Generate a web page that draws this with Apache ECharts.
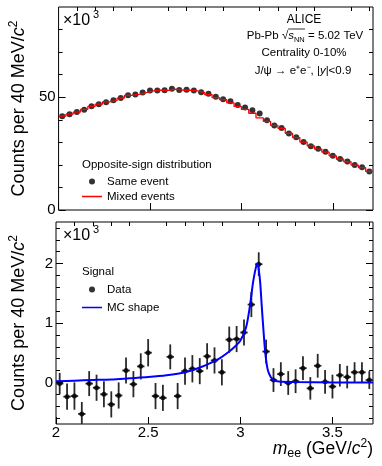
<!DOCTYPE html>
<html>
<head>
<meta charset="utf-8">
<script src="https://cdn.jsdelivr.net/npm/echarts@6/dist/echarts.min.js"></script>
<style>
html, body { margin: 0; padding: 0; background: #fff; }
#chart { width: 382px; height: 466px; }
</style>
</head>
<body>
<div id="chart"></div>
<script>
// bin centres (40 MeV bins)
const massBins = [2.02, 2.06, 2.10, 2.14, 2.18, 2.22, 2.26, 2.30, 2.34, 2.38,
  2.42, 2.46, 2.50, 2.54, 2.58, 2.62, 2.66, 2.70, 2.74, 2.78,
  2.82, 2.86, 2.90, 2.94, 2.98, 3.02, 3.06, 3.10, 3.14, 3.18,
  3.22, 3.26, 3.30, 3.34, 3.38, 3.42, 3.46, 3.50, 3.54, 3.58,
  3.62, 3.66, 3.70]
// opposite-sign, x10^3
const sameEvent = [41.6, 42.5, 43.5, 44.5, 46.0, 46.9, 47.8, 48.7, 49.7, 50.9,
  51.2, 52.1, 53.0, 53.0, 53.1, 53.8, 53.2, 53.3, 53.0, 52.2,
  51.5, 50.2, 49.1, 48.2, 46.6, 45.4, 44.2, 42.8, 39.8, 37.5,
  36.3, 33.9, 32.2, 30.2, 28.3, 27.1, 25.8, 24.0, 22.6, 21.5,
  20.0, 18.9, 17.1]
const mixedEvents = [41.6, 42.5, 43.4, 44.6, 45.9, 46.9, 47.9, 48.6, 49.6, 50.8,
  51.3, 52.0, 52.8, 53.1, 53.0, 53.6, 53.1, 53.1, 52.8, 52.0,
  51.1, 49.8, 48.9, 47.5, 45.9, 44.6, 42.9, 40.8, 39.3, 37.5,
  36.2, 34.0, 32.1, 30.1, 28.4, 27.0, 25.7, 24.0, 22.5, 21.4,
  19.9, 18.8, 17.1]
// signal, x10^3
const signal = [-0.02, -0.24, -0.23, -0.53, -0.02, -0.09, -0.20, -0.37, -0.22, 0.20,
  -0.03, 0.27, 0.50, -0.23, -0.26, 0.43, -0.23, 0.19, 0.23, 0.19,
  0.44, 0.37, 0.17, 0.72, 0.73, 0.84, 1.31, 1.99, 0.52, 0.04,
  0.14, -0.01, 0.02, 0.24, -0.10, 0.28, 0.01, -0.07, 0.12, 0.09,
  0.17, 0.17, 0.04]
const signalErr = [0.18, 0.22, 0.23, 0.20, 0.21, 0.22, 0.22, 0.22, 0.22, 0.22,
  0.22, 0.22, 0.23, 0.22, 0.22, 0.21, 0.22, 0.23, 0.23, 0.22,
  0.22, 0.22, 0.22, 0.22, 0.22, 0.22, 0.21, 0.20, 0.20, 0.20,
  0.20, 0.20, 0.20, 0.20, 0.19, 0.20, 0.20, 0.20, 0.19, 0.19,
  0.17, 0.17, 0.15]
// MC line shape
const mcMass = [2.00, 2.10, 2.20, 2.30, 2.40, 2.50, 2.60, 2.70, 2.78, 2.84,
  2.89, 2.94, 2.97, 3.00, 3.03, 3.05, 3.07, 3.085, 3.092, 3.10,
  3.108, 3.116, 3.124, 3.132, 3.14, 3.15, 3.165, 3.18, 3.21, 3.30,
  3.50, 3.72]
const mcShape = [0.02, 0.03, 0.04, 0.05, 0.07, 0.09, 0.12, 0.17, 0.25, 0.33,
  0.41, 0.52, 0.60, 0.70, 0.91, 1.24, 1.70, 1.94, 2.00, 1.90,
  1.68, 1.30, 0.95, 0.62, 0.38, 0.20, 0.09, 0.04, 0.015, 0.005,
  0.0, 0.0]
// ticks
const xMajor = [2, 2.5, 3, 3.5]
const xMinor = [2.1, 2.2, 2.3, 2.4, 2.6, 2.7, 2.8, 2.9, 3.1, 3.2, 3.3, 3.4, 3.6, 3.7]
const topMajor = [0, 50]
const topMinor = [10, 20, 30, 40, 60, 70, 80]
const botMajor = [0, 1, 2]
const botMinor = [-0.6, -0.4, -0.2, 0.2, 0.4, 0.6, 0.8, 1.2, 1.4, 1.6, 1.8, 2.2, 2.4, 2.6]

const FONT = 'Liberation Sans'
const binHalf = 0.02
// thin horizontal bar icon for line entries in the legends
const lineIcon = 'path://M0,0 L0.001,0 L0.001,6 L0,6 Z M0,2.3 L20,2.3 L20,3.7 L0,3.7 Z'

const chartObj = echarts.init(document.getElementById('chart'))

function axisX (grid, ticks, len, labels) {
  return {
    type: 'value', gridIndex: grid, min: 2, max: 3.72,
    axisLine: { show: false, onZero: false },
    splitLine: { show: false },
    axisTick: { inside: true, length: len, customValues: ticks, lineStyle: { color: '#000' } },
    axisLabel: { show: labels, customValues: ticks, margin: 1, color: '#000', fontSize: 15, fontFamily: FONT }
  }
}
function axisY (grid, min, max, ticks, len, pos, labels) {
  return {
    type: 'value', gridIndex: grid, min: min, max: max, position: pos,
    axisLine: { show: false, onZero: false },
    splitLine: { show: false },
    axisTick: { inside: true, length: len, customValues: ticks, lineStyle: { color: '#000' } },
    axisLabel: { show: labels, customValues: ticks, margin: 3, color: '#000', fontSize: 15, fontFamily: FONT }
  }
}
const yName = {
  name: '{t|Counts per 40 MeV/}{i|c}{s|2}',
  nameLocation: 'middle',
  nameGap: 26,
  nameTextStyle: {
    rich: {
      t: { fontSize: 18, fontFamily: FONT, color: '#000', lineHeight: 22 },
      i: { fontSize: 18, fontFamily: FONT, fontStyle: 'italic', color: '#000', lineHeight: 22 },
      s: { fontSize: 12, fontFamily: FONT, color: '#000', verticalAlign: 'top', lineHeight: 13 }
    }
  }
}

const yAxes = [
  Object.assign(axisY(0, 0, 90, topMajor, 7, 'left', true), yName),
  axisY(0, 0, 90, topMinor, 4, 'left', false),
  axisY(0, 0, 90, topMajor, 7, 'right', false),
  axisY(0, 0, 90, topMinor, 4, 'right', false),
  Object.assign(axisY(1, -0.7, 2.7, botMajor, 7, 'left', true), yName),
  axisY(1, -0.7, 2.7, botMinor, 4, 'left', false),
  axisY(1, -0.7, 2.7, botMajor, 7, 'right', false),
  axisY(1, -0.7, 2.7, botMinor, 4, 'right', false)
]

// histogram steps from bin edges
const mixedSteps = massBins.map((m, i) => [m - binHalf, mixedEvents[i]])
mixedSteps.push([massBins[massBins.length - 1] + binHalf, mixedEvents[mixedEvents.length - 1]])

const txt = { fontFamily: FONT, fontSize: 11.5, fill: '#000' }
const rich = {
  i: { fontFamily: FONT, fontSize: 11.5, fontStyle: 'italic', lineHeight: 16 },
  sub: { fontFamily: FONT, fontSize: 7.5, verticalAlign: 'bottom', lineHeight: 9 },
  sup: { fontFamily: FONT, fontSize: 7.5, verticalAlign: 'top', lineHeight: 9 }
}
const legendText = { fontFamily: FONT, fontSize: 11.5, color: '#000', lineHeight: 13 }

const option = {
  animation: false,
  textStyle: { fontFamily: FONT },
  grid: [
    { left: 56, top: 7, width: 317, height: 203, show: true, borderColor: '#000', borderWidth: 1 },
    { left: 56, top: 222, width: 317, height: 202, show: true, borderColor: '#000', borderWidth: 1 }
  ],
  xAxis: [
    axisX(0, xMajor, 7, false),
    axisX(0, xMinor, 4, false),
    axisX(1, xMajor, 7, true),
    axisX(1, xMinor, 4, false)
  ],
  yAxis: yAxes,
  legend: [
    {
      data: [{ name: 'Same event', icon: 'circle' }, { name: 'Mixed events', icon: lineIcon }],
      left: 82, top: 175, orient: 'vertical', itemWidth: 20, itemHeight: 6, itemGap: 2, padding: 0,
      textStyle: legendText
    },
    {
      data: [{ name: 'Data', icon: 'circle' }, { name: 'MC shape', icon: lineIcon }],
      left: 82, top: 283, orient: 'vertical', itemWidth: 20, itemHeight: 6, itemGap: 5, padding: 0,
      textStyle: legendText
    }
  ],
  graphic: [
    { type: 'text', left: 63, top: 13, style: { text: '×10', font: '16px "Liberation Sans"', fill: '#000' } },
    { type: 'text', left: 93, top: 9, style: { text: '3', font: '11px "Liberation Sans"', fill: '#000' } },
    { type: 'text', left: 63, top: 228, style: { text: '×10', font: '16px "Liberation Sans"', fill: '#000' } },
    { type: 'text', left: 93, top: 224, style: { text: '3', font: '11px "Liberation Sans"', fill: '#000' } },
    { type: 'text', x: 304, y: 20, style: Object.assign({ text: 'ALICE', align: 'center', verticalAlign: 'middle' }, txt, { fontSize: 12 }) },
    { type: 'text', x: 305, y: 36, style: Object.assign({ text: 'Pb-Pb √{i|s}{sub|NN} = 5.02 TeV', align: 'center', verticalAlign: 'middle', rich: rich }, txt) },
    { type: 'line', shape: { x1: 288, y1: 29, x2: 305, y2: 29 }, style: { stroke: '#000', lineWidth: 0.8 } },
    { type: 'text', x: 304, y: 53, style: Object.assign({ text: 'Centrality 0-10%', align: 'center', verticalAlign: 'middle' }, txt) },
    { type: 'text', x: 303, y: 71, style: Object.assign({ text: 'J/ψ → e⁺e⁻, |{i|y}|<0.9', align: 'center', verticalAlign: 'middle', rich: rich }, txt) },
    { type: 'text', x: 82, y: 165, style: Object.assign({ text: 'Opposite-sign distribution', verticalAlign: 'middle' }, txt) },
    { type: 'text', x: 82, y: 272, style: Object.assign({ text: 'Signal', verticalAlign: 'middle' }, txt) },
    {
      type: 'text', x: 373, y: 449,
      style: {
        text: '{i|m}{sub|ee} (GeV/{i|c}{sup|2})', align: 'right', verticalAlign: 'middle',
        fontFamily: FONT, fontSize: 17.5, fill: '#000',
        rich: {
          i: { fontFamily: FONT, fontSize: 17.5, fontStyle: 'italic', lineHeight: 22 },
          sub: { fontFamily: FONT, fontSize: 12.5, verticalAlign: 'bottom', lineHeight: 14 },
          sup: { fontFamily: FONT, fontSize: 12, verticalAlign: 'top', lineHeight: 14 }
        }
      }
    }
  ],
  series: [
    {
      name: 'Mixed events', type: 'line', xAxisIndex: 0, yAxisIndex: 0,
      step: 'end', showSymbol: false, symbol: 'none',
      lineStyle: { color: '#ff0000', width: 1.3 }, itemStyle: { color: '#ff0000' },
      data: mixedSteps
    },
    {
      name: 'Same event', type: 'scatter', xAxisIndex: 0, yAxisIndex: 0,
      symbolSize: 6, itemStyle: { color: '#000' },
      data: massBins.map((m, i) => [m, sameEvent[i]])
    },
    {
      name: 'MC shape', type: 'line', xAxisIndex: 2, yAxisIndex: 4,
      smooth: 0.3, showSymbol: false, symbol: 'none',
      lineStyle: { color: '#0000ff', width: 2 }, itemStyle: { color: '#0000ff' },
      data: mcMass.map((m, i) => [m, mcShape[i]])
    },
    {
      type: 'custom', xAxisIndex: 2, yAxisIndex: 4, clip: true,
      data: massBins.map((m, i) => [m, signal[i], signalErr[i]]),
      renderItem: function (params, api) {
        const x = api.value(0)
        const y = api.value(1)
        const e = api.value(2)
        const lo = api.coord([x, y - e])
        const hi = api.coord([x, y + e])
        const l = api.coord([x - binHalf, y])
        const r = api.coord([x + binHalf, y])
        const st = { stroke: '#2a2a2a', lineWidth: 1.8 }
        return {
          type: 'group',
          children: [
            { type: 'line', shape: { x1: lo[0], y1: lo[1], x2: hi[0], y2: hi[1] }, style: st },
            { type: 'line', shape: { x1: l[0], y1: l[1], x2: r[0], y2: r[1] }, style: st }
          ]
        }
      }
    },
    {
      name: 'Data', type: 'scatter', xAxisIndex: 2, yAxisIndex: 4,
      symbolSize: 5, itemStyle: { color: '#000' },
      data: massBins.map((m, i) => [m, signal[i]])
    }
  ]
}
chartObj.setOption(option)
</script>
</body>
</html>
